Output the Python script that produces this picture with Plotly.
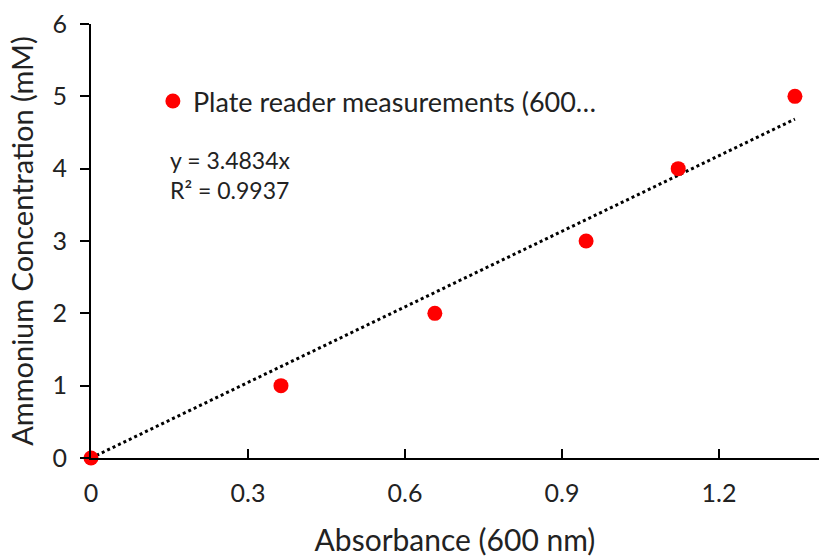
import plotly.graph_objects as go

absorbance = [0.0, 0.363, 0.657, 0.946, 1.122, 1.345]
concentration = [0, 1, 2, 3, 4, 5]
slope = 3.4834
r2 = 0.9937
x_ticks = [0, 0.3, 0.6, 0.9, 1.2]
x_tick_labels = ["0", "0.3", "0.6", "0.9", "1.2"]
y_ticks = [0, 1, 2, 3, 4, 5, 6]

FONT = "Lato"
TXT = "#222"

trend_x = [0.0, max(absorbance)]
trend_y = [slope * v for v in trend_x]

fig = go.Figure()
fig.add_trace(go.Scatter(
    x=trend_x, y=trend_y, mode="lines",
    line=dict(color="black", width=3, dash="dot"),
    showlegend=False, hoverinfo="skip", cliponaxis=False,
))
fig.add_trace(go.Scatter(
    x=absorbance, y=concentration, mode="markers",
    marker=dict(color="#FF0000", size=15),
    name="Plate reader measurements (600…",
    cliponaxis=False,
))

fig.add_annotation(
    xref="paper", yref="paper", x=0.106, y=0.652, xanchor="left", yanchor="middle",
    text=f"y = {slope}x<br>R² = {r2}", showarrow=False, align="left",
    font=dict(family=FONT, size=23, color=TXT),
)

fig.update_layout(
    width=819, height=557,
    margin=dict(l=91, r=0, t=24, b=99),
    paper_bgcolor="white", plot_bgcolor="white",
    font=dict(family=FONT, size=26, color=TXT),
    showlegend=True,
    legend=dict(x=0.085, y=0.878, xanchor="left", yanchor="top",
                bgcolor="rgba(0,0,0,0)", font=dict(family=FONT, size=27, color=TXT)),
    xaxis=dict(
        range=[0, 1.391], tickvals=x_ticks, ticktext=x_tick_labels,
        showgrid=False, zeroline=False, showline=True, linecolor="black", linewidth=2,
        ticks="inside", ticklen=9, tickwidth=2, tickcolor="black",
        tickfont=dict(size=25), ticklabelstandoff=12,
        title=dict(text="Absorbance (600 nm)", font=dict(size=30), standoff=27),
    ),
    yaxis=dict(
        range=[0, 6], tickvals=y_ticks,
        showgrid=False, zeroline=False, showline=True, linecolor="black", linewidth=2,
        ticks="outside", ticklen=9, tickwidth=2, tickcolor="black",
        tickfont=dict(size=25), ticklabelstandoff=8,
        title=dict(text="Ammonium Concentration (mM)", font=dict(size=29), standoff=10),
    ),
)

fig.write_html("out.html")
